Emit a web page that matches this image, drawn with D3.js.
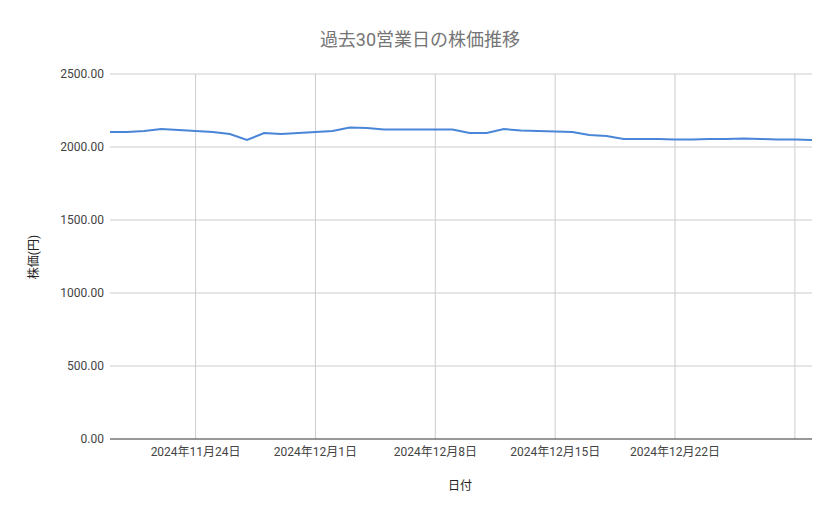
<!DOCTYPE html><html><head><meta charset="utf-8"><script src="https://cdn.jsdelivr.net/npm/d3@7"></script>
<style>body{margin:0;background:#fff}text{font-family:Roboto,"Noto Sans CJK JP",sans-serif}</style></head><body><svg id="c" width="839" height="519"></svg><script>
const startDate="2024-11-19";
const prices=[2103,2103,2110,2123,2116,2110,2103,2089,2048,2096,2089,2096,2103,2110,2134,2130,2120,2120,2120,2120,2120,2096,2096,2123,2113,2110,2106,2103,2082,2075,2055,2055,2055,2051,2051,2055,2055,2058,2055,2051,2051,2048];
const yTicks=[0,500,1000,1500,2000,2500];
const xTickDates=["2024-11-24","2024-12-01","2024-12-08","2024-12-15","2024-12-22","2024-12-29"];
const parse=d3.timeParse("%Y-%m-%d");
const s0=parse(startDate);
const data=prices.map((v,i)=>({d:d3.timeDay.offset(s0,i),v}));
const svg=d3.select("#c");
const L=110,R=812,T=74,B=439;
const x=d3.scaleTime().domain([s0,data[data.length-1].d]).range([L,R]);
const y=d3.scaleLinear().domain([0,2500]).range([B,T]);
svg.append("text").attr("x",420).attr("y",46).attr("text-anchor","middle").attr("font-size",18).attr("fill","#757575").text("過去30営業日の株価推移");
const g=svg.append("g");
g.selectAll(".h").data(yTicks.slice(1)).join("line").attr("x1",L).attr("x2",R).attr("y1",d=>y(d)).attr("y2",d=>y(d)).attr("stroke","#cccccc");
g.selectAll(".v").data(xTickDates.map(parse)).join("line").attr("x1",d=>x(d)).attr("x2",d=>x(d)).attr("y1",T).attr("y2",B).attr("stroke","#cccccc");
g.selectAll(".yl").data(yTicks).join("text").attr("x",L-6).attr("y",d=>y(d)+4).attr("text-anchor","end").attr("font-size",12).attr("fill","#444").text(d=>d3.format(".2f")(d));
g.selectAll(".xl").data(xTickDates.slice(0,5).map(parse)).join("text").attr("x",d=>x(d)).attr("y",456).attr("text-anchor","middle").attr("font-size",12).attr("fill","#444").text(d=>d3.timeFormat("%Y年%-m月%-d日")(d));
svg.append("line").attr("x1",L).attr("x2",R).attr("y1",B).attr("y2",B).attr("stroke","#333");
svg.append("path").datum(data).attr("fill","none").attr("stroke","#4a86d8").attr("stroke-width",2).attr("d",d3.line().x(d=>x(d.d)).y(d=>y(d.v)));
svg.append("text").attr("x",460).attr("y",490).attr("text-anchor","middle").attr("font-size",12).attr("fill","#222").text("日付");
svg.append("text").attr("transform","translate(38,257) rotate(-90)").attr("text-anchor","middle").attr("font-size",12).attr("fill","#222").text("株価(円)");
</script></body></html>
